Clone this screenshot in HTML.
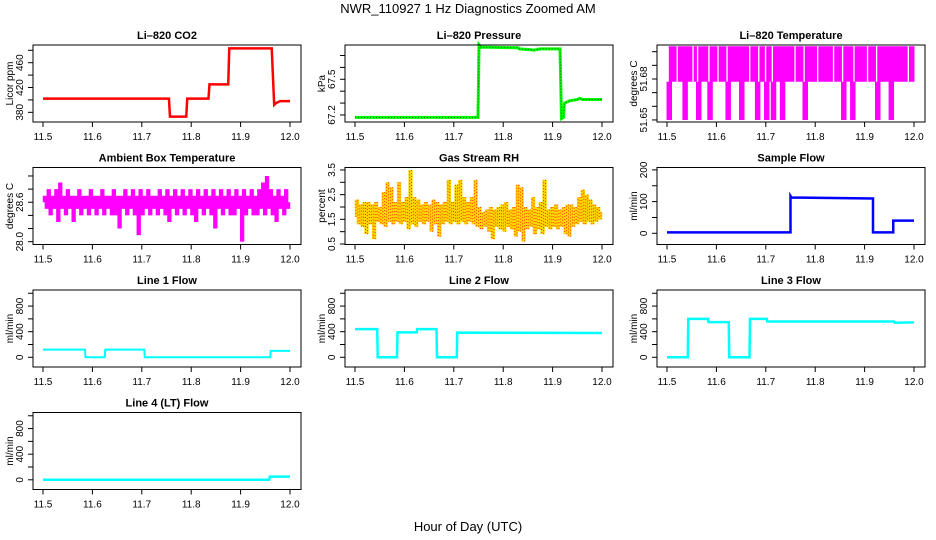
<!DOCTYPE html>
<html><head><meta charset="utf-8">
<style>
html,body{margin:0;padding:0;background:#fff;}
svg{display:block;font-family:"Liberation Sans",sans-serif;}
</style></head>
<body>
<svg id="chart" width="936" height="540" viewBox="0 0 936 540" xmlns="http://www.w3.org/2000/svg">
<rect x="0" y="0" width="936" height="540" fill="#fff"/>
<text x="468" y="13" text-anchor="middle" font-size="13">NWR_110927  1 Hz Diagnostics Zoomed AM</text>
<text x="468" y="531" text-anchor="middle" font-size="13">Hour of Day (UTC)</text>
</svg>
<script>
// ---- data ----
const xTicks = [11.5, 11.6, 11.7, 11.8, 11.9, 12.0];
const xTickLabels = ["11.5", "11.6", "11.7", "11.8", "11.9", "12.0"];

const co2Times = [11.5, 11.755, 11.757, 11.79, 11.792, 11.835, 11.837, 11.875, 11.877, 11.963, 11.968, 11.972, 11.98, 12.0];
const co2Vals  = [402, 402, 373, 373, 402, 402, 425, 425, 483, 483, 392, 395, 398, 398];

const presTimes = [11.5, 11.749, 11.751, 11.755, 11.83, 11.833, 11.85, 11.862, 11.875, 11.915, 11.918, 11.922, 11.924, 11.935, 11.95, 11.955, 11.96, 12.0];
const presVals  = [67.18, 67.18, 67.79, 67.77, 67.765, 67.755, 67.75, 67.745, 67.755, 67.755, 67.17, 67.18, 67.3, 67.32, 67.33, 67.34, 67.33, 67.33];

const tempVals = [51.678,51.65,51.704,51.678,51.704,51.704,51.678,51.704,51.65,51.704,51.678,51.704,51.704,51.678,51.65,51.704,51.678,51.704,51.678,51.65,51.704,51.678,51.704,51.704,51.678,51.704,51.678,51.65,51.704,51.678,51.704,51.678,51.704,51.65,51.704,51.678,51.704,51.704,51.678,51.704,51.65,51.678,51.704,51.678,51.65,51.704,51.678,51.65,51.704,51.678,51.704,51.65,51.704,51.678,51.704,51.678,51.704,51.704,51.678,51.704,51.678,51.65,51.704,51.678,51.704,51.678,51.704,51.704,51.678,51.704,51.678,51.704,51.678,51.704,51.704,51.678,51.704,51.678,51.65,51.704,51.678,51.704,51.65,51.678,51.704,51.678,51.704,51.678,51.704,51.704,51.678,51.704,51.678,51.65,51.704,51.678,51.704,51.678,51.704,51.65,51.704,51.678,51.704,51.678,51.704,51.678,51.704,51.704,51.678,51.704];

const ambVals = [28.6,28.7,28.5,28.8,28.4,28.7,28.5,28.8,28.3,28.9,28.5,28.7,28.4,28.8,28.5,28.7,28.3,28.7,28.5,28.8,28.4,28.7,28.5,28.7,28.4,28.8,28.5,28.7,28.4,28.7,28.5,28.8,28.4,28.7,28.5,28.7,28.4,28.8,28.4,28.7,28.2,28.7,28.5,28.8,28.4,28.7,28.5,28.8,28.4,28.7,28.1,28.8,28.4,28.7,28.5,28.8,28.4,28.7,28.5,28.7,28.4,28.8,28.5,28.7,28.4,28.8,28.3,28.7,28.5,28.8,28.4,28.7,28.5,28.8,28.4,28.7,28.5,28.8,28.4,28.7,28.3,28.8,28.5,28.7,28.4,28.8,28.5,28.7,28.4,28.8,28.2,28.7,28.5,28.8,28.4,28.7,28.5,28.8,28.4,28.7,28.4,28.8,28.5,28.7,28.0,28.8,28.4,28.7,28.5,28.8,28.4,28.7,28.4,28.8,28.5,28.9,28.4,29.0,28.5,28.8,28.4,28.7,28.3,28.8,28.5,28.7,28.4,28.8,28.5,28.6];

const rhVals = [1.6,2.3,1.3,2.1,1.2,2.2,0.9,2.2,1.3,2.1,0.7,2.2,1.4,2.0,1.3,2.6,1.2,3.0,1.4,2.8,1.3,2.2,1.4,3.0,1.3,2.2,1.4,2.4,1.1,3.5,1.3,2.4,1.2,2.3,1.4,2.1,1.3,2.2,1.4,2.1,1.0,2.3,1.3,2.2,0.8,2.1,1.3,2.2,1.4,3.1,1.3,2.2,1.4,2.9,1.3,3.1,1.4,2.4,1.3,2.2,1.4,2.4,1.3,3.1,1.2,2.0,1.1,1.8,1.2,1.9,1.0,2.0,0.7,1.9,1.2,2.0,1.1,2.1,1.0,2.2,1.2,1.9,1.1,2.0,0.8,2.9,1.0,2.8,0.6,2.0,1.1,1.9,1.2,2.4,0.9,2.0,1.1,2.2,0.9,3.1,1.2,1.9,1.1,2.0,1.2,2.1,1.1,1.9,1.2,2.0,0.9,2.1,0.8,2.1,1.2,2.0,1.3,2.4,1.4,2.7,1.3,2.5,1.4,2.3,1.3,2.1,1.4,2.0,1.5,1.8];

const sampleTimes = [11.5, 11.75, 11.75, 11.752, 11.917, 11.917, 11.958, 11.958, 12.0];
const sampleVals  = [3, 3, 118, 113, 110, 3, 3, 40, 40];

const line1Times = [11.5, 11.585, 11.586, 11.625, 11.626, 11.705, 11.706, 11.96, 11.961, 12.0];
const line1Vals  = [120, 120, 0, 0, 120, 120, 0, 0, 100, 100];

const line2Times = [11.5, 11.545, 11.546, 11.585, 11.586, 11.625, 11.626, 11.665, 11.666, 11.706, 11.707, 12.0];
const line2Vals  = [440, 440, 0, 0, 390, 390, 440, 440, 0, 0, 385, 380];

const line3Times = [11.5, 11.542, 11.543, 11.583, 11.584, 11.625, 11.626, 11.667, 11.668, 11.702, 11.703, 11.96, 11.961, 12.0];
const line3Vals  = [0, 0, 600, 600, 550, 550, 0, 0, 600, 600, 560, 560, 540, 545];

const line4Times = [11.5, 11.958, 11.959, 12.0];
const line4Vals  = [0, 0, 50, 50];

const co2Ticks = [380, 400, 420, 440, 460, 480];
const co2TickLabels = ["380", "", "420", "", "460", ""];
const presTicks = [67.2, 67.3, 67.4, 67.5, 67.6, 67.7];
const presTickLabels = ["67.2", "", "", "67.5", "", ""];
const tempTicks = [51.65, 51.66, 51.67, 51.68, 51.69, 51.70];
const tempTickLabels = ["51.65", "", "", "51.68", "", ""];
const ambTicks = [28.0, 28.2, 28.4, 28.6, 28.8, 29.0];
const ambTickLabels = ["28.0", "", "", "28.6", "", ""];
const rhTicks = [0.5, 1.0, 1.5, 2.0, 2.5, 3.0, 3.5];
const rhTickLabels = ["0.5", "", "1.5", "", "2.5", "", "3.5"];
const sampleTicks = [0, 50, 100, 150, 200];
const sampleTickLabels = ["0", "", "100", "", "200"];
const flowTicks = [0, 200, 400, 600, 800, 1000];
const flowTickLabels = ["0", "", "400", "", "800", ""];

// ---- drawing ----
const NS = "http://www.w3.org/2000/svg";
const svg = document.getElementById("chart");
function mk(tag, attrs, parent) {
  const e = document.createElementNS(NS, tag);
  for (const k in attrs) e.setAttribute(k, attrs[k]);
  (parent || svg).appendChild(e);
  return e;
}
function evenTimes(n) { const t = []; for (let i = 0; i < n; i++) t.push(11.5 + 0.5 * i / (n - 1)); return t; }

const colLefts = [33, 345, 657];
const rowTops = [45, 167.5, 290, 412.5];
const BW = 268, BH = 77;

function panel(opt) {
  const L = colLefts[opt.col], T = rowTops[opt.row];
  const g = mk("g", {});
  
  
  const xs = v => L + 10 + (v - 11.5) / 0.5 * 247;
  const ys = v => T + BH - (v - opt.ymin) / (opt.ymax - opt.ymin) * BH;
  const t = mk("text", {x: L + BW / 2, y: T - 6, "text-anchor": "middle", "font-size": 11, "font-weight": "bold"}, g);
  t.textContent = opt.title;
  
  
  opt.series.forEach(s => {
    let d = "";
    if (s.mode === "vbar") {
      for (let i = 0; i < s.times.length - 1; i++) {
        const x = ((xs(s.times[i]) + xs(s.times[i + 1])) / 2).toFixed(2);
        let y1 = ys(s.vals[i]), y2 = ys(s.vals[i + 1]);
        if (Math.abs(y1 - y2) < 0.5) { if (s.skipFlat) continue; y1 -= 0.5; y2 += 0.5; }
        d += "M" + x + " " + y1.toFixed(2) + "L" + x + " " + y2.toFixed(2);
      }
    } else {
      s.times.forEach((tt, i) => { d += (i ? "L" : "M") + xs(tt).toFixed(2) + " " + ys(s.vals[i]).toFixed(2); });
    }
    const p = mk("path", {d: d, fill: "none", stroke: s.color, "stroke-width": s.width, "stroke-linejoin": "miter"}, g);
    if (s.dash) p.setAttribute("stroke-dasharray", s.dash);
    
    
  });
  const box = mk("rect", {x: L, y: T, width: BW, height: BH, fill: "none", stroke: "#000", "stroke-width": 1}, g);
  
  
  const xa = mk("g", {}, g);
  
  
  mk("line", {x1: xs(xTicks[0]), x2: xs(xTicks[xTicks.length - 1]), y1: T + BH, y2: T + BH, stroke: "#000"}, xa);
  xTicks.forEach((v, i) => {
    mk("line", {x1: xs(v), x2: xs(v), y1: T + BH, y2: T + BH + 5, stroke: "#000"}, xa);
    const tl = mk("text", {x: xs(v), y: T + BH + 18, "text-anchor": "middle", "font-size": 10}, xa);
    tl.textContent = xTickLabels[i];
    
    
  });
  const ya = mk("g", {}, g);
  
  
  mk("line", {x1: L, x2: L, y1: ys(opt.ticks[0]), y2: ys(opt.ticks[opt.ticks.length - 1]), stroke: "#000"}, ya);
  opt.ticks.forEach((v, i) => {
    mk("line", {x1: L - 5, x2: L, y1: ys(v), y2: ys(v), stroke: "#000"}, ya);
    if (opt.tickLabels[i]) {
      const yy = ys(v), xx = L - 10;
      const tl = mk("text", {x: xx, y: yy, "text-anchor": "middle", "font-size": 10, transform: "rotate(-90 " + xx + " " + yy + ")"}, ya);
      tl.textContent = opt.tickLabels[i];
      
      
    }
  });
  const yx = L - 20, yy = T + BH / 2;
  const yt = mk("text", {x: yx, y: yy, "text-anchor": "middle", "font-size": 10, transform: "rotate(-90 " + yx + " " + yy + ")"}, g);
  yt.textContent = opt.ylabel;
  
  
}

panel({col: 0, row: 0, name: "co2-panel", title: "Li\u2013820 CO2", ylabel: "Licor ppm", ymin: 364.4, ymax: 488.5, ticks: co2Ticks, tickLabels: co2TickLabels,
  series: [{name: "co2-line", times: co2Times, vals: co2Vals, color: "#ff0000", width: 2.5}]});
panel({col: 1, row: 0, name: "pressure-panel", title: "Li\u2013820 Pressure", ylabel: "kPa", ymin: 67.141, ymax: 67.788, ticks: presTicks, tickLabels: presTickLabels,
  series: [{name: "pressure-line", times: presTimes, vals: presVals, color: "#00ff00", width: 3},
           {name: "pressure-dots", times: presTimes, vals: presVals, color: "#006600", width: 1, dash: "1 2"}]});
panel({col: 2, row: 0, name: "temperature-panel", title: "Li\u2013820 Temperature", ylabel: "degrees C", ymin: 51.6485, ymax: 51.7049, ticks: tempTicks, tickLabels: tempTickLabels,
  series: [{name: "temperature-line", mode: "vbar", skipFlat: true, times: evenTimes(tempVals.length), vals: tempVals, color: "#ff00ff", width: 3.2}]});
panel({col: 0, row: 1, name: "ambient-temp-panel", title: "Ambient Box Temperature", ylabel: "degrees C", ymin: 27.957, ymax: 29.129, ticks: ambTicks, tickLabels: ambTickLabels,
  series: [{name: "ambient-temp-line", mode: "vbar", times: evenTimes(ambVals.length), vals: ambVals, color: "#ff00ff", width: 2.4}]});
panel({col: 1, row: 1, name: "rh-panel", title: "Gas Stream RH", ylabel: "percent", ymin: 0.48, ymax: 3.6, ticks: rhTicks, tickLabels: rhTickLabels,
  series: [{name: "rh-line", mode: "vbar", times: evenTimes(rhVals.length), vals: rhVals, color: "#ffd700", width: 2.4},
           {name: "rh-dots", mode: "vbar", times: evenTimes(rhVals.length), vals: rhVals, color: "#ff3000", width: 1, dash: "1 2"}]});
panel({col: 2, row: 1, name: "sample-flow-panel", title: "Sample Flow", ylabel: "ml/min", ymin: -35.3, ymax: 207.6, ticks: sampleTicks, tickLabels: sampleTickLabels,
  series: [{name: "sample-flow-line", times: sampleTimes, vals: sampleVals, color: "#0000ff", width: 2.5}]});
panel({col: 0, row: 2, name: "line1-flow-panel", title: "Line 1 Flow", ylabel: "ml/min", ymin: -151.6, ymax: 1051, ticks: flowTicks, tickLabels: flowTickLabels,
  series: [{name: "line1-flow-line", times: line1Times, vals: line1Vals, color: "#00ffff", width: 2}]});
panel({col: 1, row: 2, name: "line2-flow-panel", title: "Line 2 Flow", ylabel: "ml/min", ymin: -151.6, ymax: 1051, ticks: flowTicks, tickLabels: flowTickLabels,
  series: [{name: "line2-flow-line", times: line2Times, vals: line2Vals, color: "#00ffff", width: 2.5}]});
panel({col: 2, row: 2, name: "line3-flow-panel", title: "Line 3 Flow", ylabel: "ml/min", ymin: -151.6, ymax: 1051, ticks: flowTicks, tickLabels: flowTickLabels,
  series: [{name: "line3-flow-line", times: line3Times, vals: line3Vals, color: "#00ffff", width: 2.5}]});
panel({col: 0, row: 3, name: "line4-flow-panel", title: "Line 4 (LT) Flow", ylabel: "ml/min", ymin: -151.6, ymax: 1051, ticks: flowTicks, tickLabels: flowTickLabels,
  series: [{name: "line4-flow-line", times: line4Times, vals: line4Vals, color: "#00ffff", width: 2.5}]});
</script>
</body></html>
